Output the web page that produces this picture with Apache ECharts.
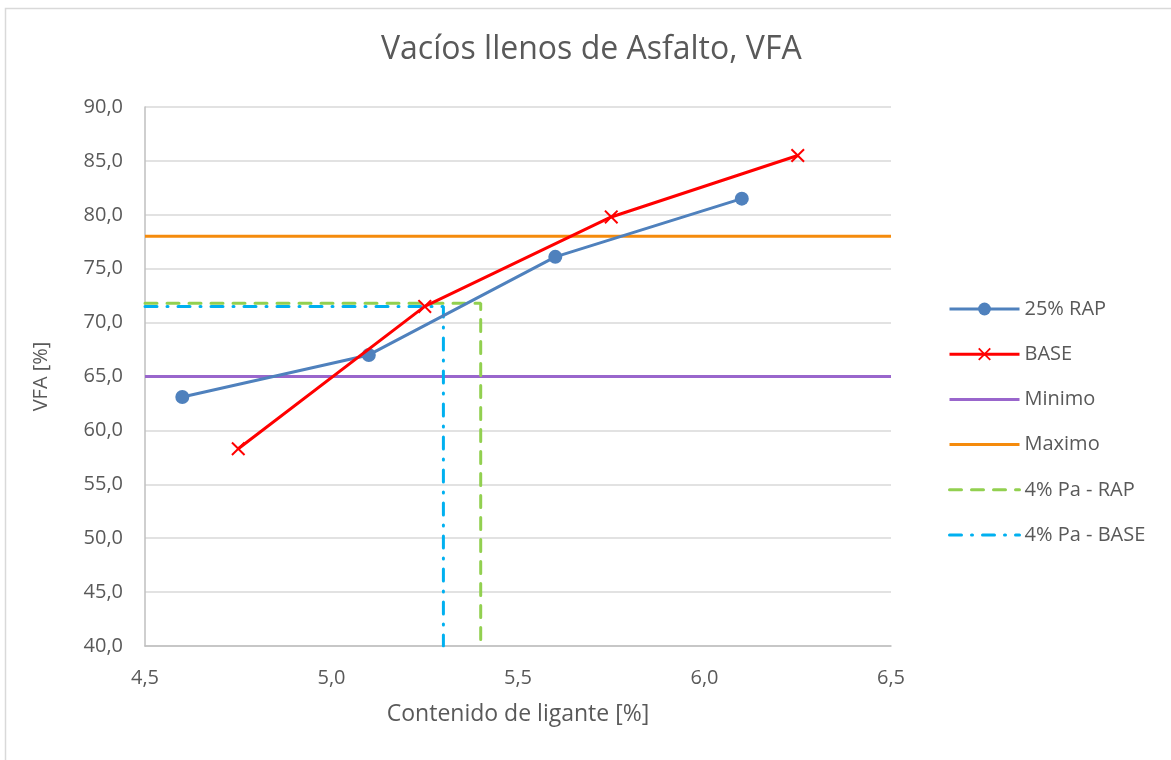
<!DOCTYPE html>
<html>
<head>
<meta charset="utf-8">
<title>Vacíos llenos de Asfalto, VFA</title>
<script src="https://cdn.jsdelivr.net/npm/echarts@6/dist/echarts.min.js"></script>
<style>
  html, body { margin: 0; padding: 0; background: #ffffff; }
  #chart { width: 1171px; height: 760px; }
</style>
</head>
<body>
<div id="chart"></div>
<script>
// Contenido de ligante [%] for each mix
const rapX = [4.6, 5.1, 5.6, 6.1];
const rapVFA = [63.1, 67.0, 76.1, 81.5];
const baseX = [4.75, 5.25, 5.75, 6.25];
const baseVFA = [58.3, 71.5, 79.8, 85.5];

// Specification limits
const limitX = [4.5, 6.5];
const vfaMin = 65;
const vfaMax = 78;

// Binder content at 4% air voids and its VFA
const paRapBinder = 5.4;
const paRapVFA = 71.8;
const paBaseBinder = 5.3;
const paBaseVFA = 71.5;

const xTicks = { min: 4.5, max: 6.5, step: 0.5 };
const yTicks = { min: 40, max: 90, step: 5 };

const FONT = '"Open Sans", "Noto Sans", sans-serif';
const TEXT = '#595959';

const pairs = (xs, ys) => xs.map((x, i) => [x, ys[i]]);
const xMark = 'path://M2,0 L10,8 L18,0 L20,2 L12,10 L20,18 L18,20 L10,12 L2,20 L0,18 L8,10 L0,2 Z';
const fmt = v => v.toFixed(1).replace('.', ',');
// plain lines: keep the legend from drawing a marker on them
const hiddenMarker = color => ({ color: color, opacity: 0 });

const chart = echarts.init(document.getElementById('chart'), null, { renderer: 'canvas' });

chart.setOption({
  backgroundColor: '#ffffff',
  animation: false,
  title: {
    text: 'Vacíos llenos de Asfalto, VFA',
    left: 376,
    top: 29,
    textStyle: { fontFamily: FONT, fontSize: 32, fontWeight: 'normal', color: TEXT }
  },
  graphic: [{
    type: 'rect',
    shape: { x: 5.5, y: 8.5, width: 1300, height: 900 },
    style: { fill: 'none', stroke: '#d9d9d9', lineWidth: 1.5 },
    silent: true
  }],
  grid: { left: 145, right: 280, top: 107, bottom: 114 },
  legend: {
    orient: 'vertical',
    left: 943,
    top: 294,
    itemWidth: 70,
    itemHeight: 16,
    itemGap: 25.2,
    lineStyle: { width: 3 },
    textStyle: { fontFamily: FONT, fontSize: 20, lineHeight: 16, color: TEXT },
    data: ['25% RAP', 'BASE', 'Minimo', 'Maximo', '4% Pa - RAP', '4% Pa - BASE']
  },
  xAxis: {
    type: 'value',
    min: xTicks.min,
    max: xTicks.max,
    interval: xTicks.step,
    name: 'Contenido de ligante [%]',
    nameLocation: 'middle',
    nameGap: 57,
    nameTextStyle: { fontFamily: FONT, fontSize: 23, color: TEXT },
    axisLine: { lineStyle: { color: '#bfbfbf', width: 1.5 } },
    axisTick: { show: false },
    splitLine: { show: false },
    axisLabel: { fontFamily: FONT, fontSize: 20, color: TEXT, margin: 22, formatter: fmt }
  },
  yAxis: {
    type: 'value',
    min: yTicks.min,
    max: yTicks.max,
    interval: yTicks.step,
    name: 'VFA [%]',
    nameLocation: 'middle',
    nameGap: 94,
    nameRotate: 90,
    nameTextStyle: { fontFamily: FONT, fontSize: 20, color: TEXT },
    axisLine: { show: true, lineStyle: { color: '#bfbfbf', width: 1.5 } },
    axisTick: { show: false },
    splitLine: { lineStyle: { color: '#d9d9d9', width: 1.5 } },
    axisLabel: { fontFamily: FONT, fontSize: 20, color: TEXT, margin: 22, formatter: fmt }
  },
  series: [
    {
      name: '25% RAP',
      type: 'line',
      data: pairs(rapX, rapVFA),
      symbol: 'circle',
      symbolSize: 14,
      lineStyle: { color: '#4f81bd', width: 3 },
      itemStyle: { color: '#4f81bd' },
      z: 6
    },
    {
      name: 'BASE',
      type: 'line',
      data: pairs(baseX, baseVFA),
      symbol: xMark,
      symbolSize: 14,
      lineStyle: { color: '#ff0000', width: 3 },
      itemStyle: { color: '#ff0000' },
      z: 7
    },
    {
      name: 'Minimo',
      type: 'line',
      data: limitX.map(x => [x, vfaMin]),
      symbol: 'none',
      lineStyle: { color: '#9966cc', width: 3 },
      itemStyle: hiddenMarker('#9966cc'),
      z: 3
    },
    {
      name: 'Maximo',
      type: 'line',
      data: limitX.map(x => [x, vfaMax]),
      symbol: 'none',
      lineStyle: { color: '#f58b0c', width: 3 },
      itemStyle: hiddenMarker('#f58b0c'),
      z: 3
    },
    {
      name: '4% Pa - RAP',
      type: 'line',
      data: [[xTicks.min, paRapVFA], [paRapBinder, paRapVFA], [paRapBinder, yTicks.min]],
      symbol: 'none',
      lineStyle: { color: '#92d050', width: 3, type: [12, 10], cap: 'round' },
      itemStyle: hiddenMarker('#92d050'),
      z: 4
    },
    {
      name: '4% Pa - BASE',
      type: 'line',
      data: [[xTicks.min, paBaseVFA], [paBaseBinder, paBaseVFA], [paBaseBinder, yTicks.min]],
      symbol: 'none',
      lineStyle: { color: '#00b0f0', width: 3, type: [12, 10, 1, 10], cap: 'round' },
      itemStyle: hiddenMarker('#00b0f0'),
      z: 5
    }
  ]
});
</script>
</body>
</html>
